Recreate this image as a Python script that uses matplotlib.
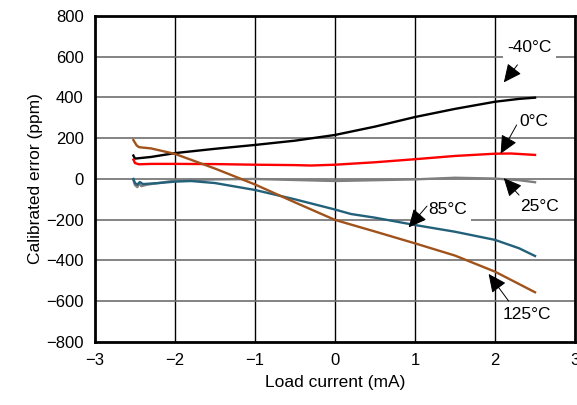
import numpy as np
import matplotlib.pyplot as plt

plt.rcParams['font.family'] = ['Liberation Sans', 'DejaVu Sans']

# values (load current in mA, error in ppm)
x_m40 = [-2.52, -2.5, -2.45, -2.3, -2.0, -1.5, -1.0, -0.5, 0.0, 0.5, 1.0, 1.5, 2.0, 2.3, 2.5]
y_m40 = [115, 100, 102, 108, 127, 148, 167, 188, 216, 257, 304, 344, 379, 393, 399]

x_0 = [-2.52, -2.5, -2.45, -2.3, -2.0, -1.5, -1.0, -0.5, -0.3, 0.0, 0.5, 1.0, 1.5, 2.0, 2.2, 2.5]
y_0 = [95, 78, 72, 74, 74, 73, 70, 68, 66, 70, 82, 97, 113, 124, 125, 118]

x_25 = [-2.52, -2.5, -2.47, -2.45, -2.42, -2.35, -2.0, -1.5, -1.0, -0.5, 0.0, 0.5, 1.0, 1.5, 2.0, 2.3, 2.5]
y_25 = [-5, -30, -40, -22, -35, -28, -8, -2, 0, -5, -10, -6, -2, 6, 2, -6, -16]

x_85 = [-2.52, -2.5, -2.47, -2.44, -2.4, -2.2, -2.0, -1.8, -1.5, -1.0, -0.5, 0.0, 0.2, 0.5, 1.0, 1.5, 2.0, 2.3, 2.5]
y_85 = [0, -20, -28, -15, -25, -20, -13, -10, -20, -54, -100, -150, -172, -190, -226, -259, -299, -340, -378]

x_125 = [-2.52, -2.48, -2.45, -2.3, -2.0, -1.5, -1.0, -0.5, 0.0, 0.5, 1.0, 1.5, 2.0, 2.5]
y_125 = [191, 165, 156, 150, 123, 51, -27, -115, -201, -258, -316, -376, -455, -556]

series = [
    (x_m40, y_m40, 'black'),
    (x_0, y_0, '#ff0000'),
    (x_25, y_25, '#7f7f7f'),
    (x_85, y_85, '#23607a'),
    (x_125, y_125, '#a0521c'),
]

labels = ['-40°C', '0°C', '25°C', '85°C', '125°C']
label_xy = [(2.43, 645), (2.49, 280), (2.56, -133), (1.41, -152), (2.4, -663)]
arrow_tip = [(2.11, 474), (2.07, 124), (2.11, 4), (0.92, -238), (1.92, -466)]
arrow_from = [(2.28, 560), (2.27, 265), (2.3, -79), (1.15, -133), (2.17, -599)]

fig = plt.figure(figsize=(5.77, 4.05), dpi=100)
ax = fig.add_axes([0.1646, 0.1556, 0.832, 0.805])

for xs, ys, c in series:
    ax.plot(xs, ys, color=c, lw=1.7, zorder=3)

ax.set_xlim(-3, 3)
ax.set_ylim(-800, 800)
ax.set_xticks(np.arange(-3, 4, 1))
ax.set_yticks(np.arange(-800, 801, 200))
ax.set_xticklabels(['\u22123', '\u22122', '\u22121', '0', '1', '2', '3'])
ax.set_yticklabels(['\u2212800', '\u2212600', '\u2212400', '\u2212200', '0', '200', '400', '600', '800'])
ax.tick_params(length=0, labelsize=12, pad=8)

for v in range(-2, 3):
    ax.axvline(v, color='black', lw=1.0, zorder=1)
for v in range(-600, 800, 200):
    ax.axhline(v, color='#6e6e6e', lw=1.2, zorder=1)

for s in ax.spines.values():
    s.set_linewidth(2)

ax.set_xlabel('Load current (mA)', fontsize=12.5, labelpad=5)
ax.set_ylabel('Calibrated error (ppm)', fontsize=12.5, labelpad=2)

for lab, pos, tip, frm in zip(labels, label_xy, arrow_tip, arrow_from):
    ax.text(pos[0], pos[1], lab, fontsize=12.5, ha='center', va='center', zorder=4,
            bbox=dict(facecolor='white', edgecolor='none', pad=3))
    ax.annotate('', xy=tip, xytext=frm, zorder=5,
                arrowprops=dict(arrowstyle='-|>,head_length=0.7,head_width=0.33',
                                color='black', lw=0.7,
                                mutation_scale=16, shrinkA=0, shrinkB=0))

fig.savefig('out.png', dpi=100)
